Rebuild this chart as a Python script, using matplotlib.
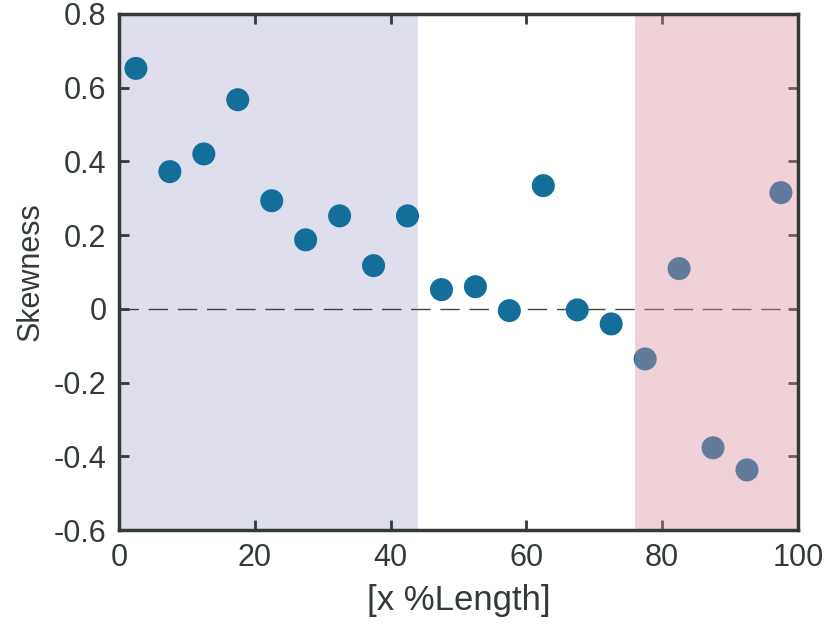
import numpy as np
import matplotlib.pyplot as plt

# Data
x_pos = [2.5, 7.5, 12.5, 17.5, 22.5, 27.5, 32.5, 37.5, 42.5, 47.5,
         52.5, 57.5, 62.5, 67.5, 72.5, 77.5, 82.5, 87.5, 92.5, 97.5]
skewness = [0.652, 0.372, 0.420, 0.567, 0.293, 0.187, 0.252, 0.117, 0.252, 0.052,
            0.060, -0.005, 0.334, -0.003, -0.041, -0.136, 0.109, -0.377, -0.437, 0.315]
region_left = (0, 44)
region_right = (76, 100)

plt.rcParams['font.family'] = ['Liberation Sans', 'DejaVu Sans']
dark = '#333a3a'

fig = plt.figure(figsize=(8.26, 6.28), dpi=100)
ax = fig.add_axes([0.144, 0.156, 0.822, 0.822])

ax.axvspan(*region_left, color='#dedeec', lw=0, zorder=0)
ax.axhline(0, color='#444444', lw=1.0, dashes=(14, 7), zorder=1)
ax.scatter(x_pos, skewness, s=275, color='#136f9a', edgecolors='none', zorder=2)
ax.axvspan(*region_right, color=(0.85, 0.55, 0.62), alpha=0.4, lw=0, zorder=3)

ax.set_xlim(0, 100)
ax.set_ylim(-0.6, 0.8)
ax.set_xticks([0, 20, 40, 60, 80, 100])
ax.set_yticks(np.round(np.arange(-0.6, 0.81, 0.2), 1))
ax.set_yticklabels(['-0.6', '-0.4', '-0.2', '0', '0.2', '0.4', '0.6', '0.8'])

ax.tick_params(direction='in', length=7, width=2, colors=dark, labelsize=22,
               top=True, right=True, pad=9)
for sp in ax.spines.values():
    sp.set_linewidth(2.5)
    sp.set_color(dark)
    sp.set_zorder(5)

ax.set_xlabel('[x %Length]', fontsize=25, color=dark, labelpad=8)
ax.set_ylabel('Skewness', fontsize=22, color=dark, labelpad=6)

fig.savefig('out.png', dpi=100)
